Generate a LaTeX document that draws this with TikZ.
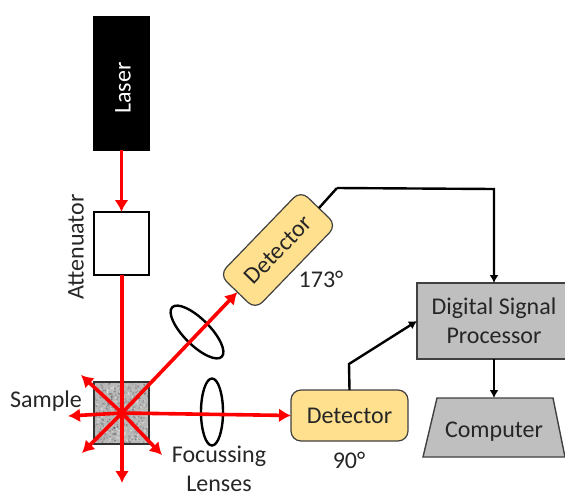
\documentclass[tikz,border=0pt]{standalone}
\usepackage{fontspec}
\setmainfont{Carlito}
\usetikzlibrary{arrows.meta,shapes.geometric,calc}
\definecolor{txt}{HTML}{262626}
\definecolor{det}{HTML}{FFE08F}
\definecolor{box}{HTML}{BFBFBF}
\tikzset{
  x=1pt,y=-1pt,
  lbl/.style={font=\fontsize{24}{29}\selectfont,text=txt,inner sep=0pt,align=center},
  block/.style={draw=black,line width=1.3pt,inner sep=0pt,outer sep=0pt,anchor=center},
  detbox/.style={draw=black!75,fill=det,line width=1.2pt,rounded corners=10pt,inner sep=0pt,outer sep=0pt,lbl},
  greybox/.style={draw=black!75,fill=box,line width=1.4pt,inner sep=0pt,outer sep=0pt,lbl},
  beam/.style={draw=red,line width=3.6pt,-{Latex[length=12pt,width=14pt]}},
  beamline/.style={draw=red,line width=3.6pt},
  wire/.style={draw=black,line width=2.4pt,-{Latex[length=8pt,width=9pt]},line join=miter},
  lens/.style={draw=black,line width=2.4pt,ellipse,inner sep=0pt,outer sep=0pt}
}
\begin{document}
\begin{tikzpicture}
\useasboundingbox (0,0) rectangle (565,491);
\node[block,fill=black,minimum width=55pt,minimum height=133pt] (laser) at (121.5,83.5) {};
\node[rotate=90,lbl,text=white] (lasertext) at (123,88) {Laser};
\node[block,fill=white,minimum width=55pt,minimum height=63pt] (att) at (121.5,243.5) {};
\node[rotate=90,lbl] (atttext) at (76,247) {Attenuator};
\node[block,draw=black!80,fill=gray!55,minimum width=55pt,minimum height=62pt] (sample) at (121.5,413) {};
\begin{scope}
\clip (94,382) rectangle (149,444);
\pgfmathsetseed{7}
\foreach \i in {1,...,700}{
  \pgfmathsetmacro{\px}{94+55*rnd}
  \pgfmathsetmacro{\py}{382+62*rnd}
  \pgfmathsetmacro{\pc}{70*rnd}
  \fill[black!\pc!white,opacity=.5] (\px,\py) circle (1.1pt);
}
\end{scope}
\node[block,draw=black!80,minimum width=55pt,minimum height=62pt] (sampleedge) at (121.5,413) {};
\coordinate (c) at (122,413);
\coordinate (tipul) at (81,375);
\coordinate (tipl) at (68,416);
\coordinate (tipdl) at (82,453);
\coordinate (tipdr) at (162,455);
\coordinate (tipd) at (122,483);
\node[lens,minimum width=22pt,minimum height=67pt] (lensa) at (212,412) {};
\node[lens,minimum width=70pt,minimum height=26pt,rotate=-45] (lensb) at (197,332) {};
\node[detbox,minimum width=117pt,minimum height=51pt] (detb) at (349.5,415.5) {Detector};
\node[detbox,minimum width=117pt,minimum height=50pt,rotate=46] (deta) at (278,250) {Detector};
\node[greybox,minimum width=154pt,minimum height=76pt] (dsp) at (494,321) {Digital Signal\\Processor};
\draw[draw=black!75,fill=box,line width=1.4pt] (437,398) -- (553,398) -- (565,457) -- (423,457) -- cycle;
\coordinate (comptop) at (494,398);
\node[lbl] (comp) at (494,432) {Computer};
\node[lbl] (samplelbl) at (46,401) {Sample};
\node[lbl] (foc) at (219,469) {Focussing\\Lenses};
\node[lbl] (a173) at (321,279) {173°};
\node[lbl] (a90) at (349,460) {90°};
\coordinate (wa) at (337,188);
\coordinate (wb) at (494,189);
\coordinate (wc) at (349,364);
\coordinate (wo) at (319,208);
\draw[beam] (laser.south) -- (att.north);
\draw[beamline] (att.south) ++(0.5,0) -- (c);
\draw[beam] (c) -- (tipul);
\draw[beam] (c) -- (tipl);
\draw[beam] (c) -- (tipdl);
\draw[beam] (c) -- (tipdr);
\draw[beam] (c) -- (tipd);
\draw[beam] (c) -- (detb.west);
\draw[beam] (c) -- (deta.west);
\draw[wire,-] (wo) -- (wa);
\draw[wire] (wa) -- (wb) -- (wb |- dsp.north);
\draw[wire] (detb.north) -- (wc) -- (dsp.west);
\draw[wire] (dsp.south -| wb) -- (comptop);
\end{tikzpicture}
\end{document}
